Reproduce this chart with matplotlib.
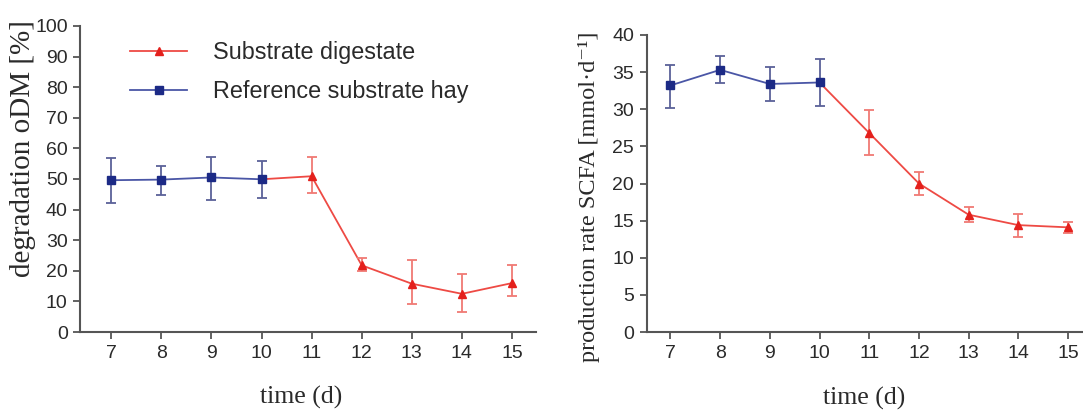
import numpy as np
import matplotlib
matplotlib.use("Agg")
import matplotlib.pyplot as plt

# --- data -------------------------------------------------------------
hay_days = [7, 8, 9, 10]
dig_days = [11, 12, 13, 14, 15]

# degradation oDM [%]
hay_odm = [49.6, 49.8, 50.5, 49.9]
hay_odm_lo = [42.2, 44.9, 43.3, 43.9]
hay_odm_hi = [56.7, 54.3, 57.3, 55.9]
dig_odm = [50.9, 21.8, 15.8, 12.5, 16.0]
dig_odm_lo = [45.5, 20.0, 9.1, 6.4, 11.7]
dig_odm_hi = [57.3, 24.3, 23.4, 19.1, 22.0]

# production rate SCFA [mmol/d]
hay_scfa = [33.2, 35.3, 33.4, 33.6]
hay_scfa_lo = [30.2, 33.5, 31.1, 30.5]
hay_scfa_hi = [36.0, 37.2, 35.7, 36.8]
dig_scfa = [26.8, 20.0, 15.8, 14.4, 14.1]
dig_scfa_lo = [23.9, 18.4, 14.8, 12.8, 13.3]
dig_scfa_hi = [29.9, 21.6, 16.8, 15.9, 14.8]

day_ticks = [7, 8, 9, 10, 11, 12, 13, 14, 15]
odm_ticks = [0, 10, 20, 30, 40, 50, 60, 70, 80, 90, 100]
scfa_ticks = [0, 5, 10, 15, 20, 25, 30, 35, 40]

label_dig = "Substrate digestate"
label_hay = "Reference substrate hay"

# --- style ------------------------------------------------------------
RED_LINE = "#ee4a44"
RED_MARK = "#e4201c"
RED_ERR = "#f07a74"
BLUE_LINE = "#4a56a6"
BLUE_MARK = "#1c2a86"
BLUE_ERR = "#5b6198"
AXIS = "#555555"
TEXT = "#2a2a2a"

plt.rcParams["font.family"] = ["Liberation Sans", "DejaVu Sans"]
SERIF = ["Liberation Serif", "DejaVu Serif"]

fig = plt.figure(figsize=(10.83, 4.11), dpi=100)
fig.patch.set_facecolor("white")


def draw_panel(ax, hay, hay_lo, hay_hi, dig, dig_lo, dig_hi):
    hay = np.asarray(hay)
    dig = np.asarray(dig)
    # connecting segment from the last hay point into the digestate series
    ax.plot(np.r_[hay_days[-1], dig_days], np.r_[hay[-1], dig],
            color=RED_LINE, lw=1.3, zorder=2)
    ax.errorbar(dig_days, dig,
                yerr=[dig - np.asarray(dig_lo), np.asarray(dig_hi) - dig],
                fmt="none", ecolor=RED_ERR, elinewidth=1.3, capsize=3.8,
                capthick=1.3, zorder=2)
    ax.plot(dig_days, dig, ls="none", marker="^", ms=6.2, color=RED_MARK,
            zorder=3)

    ax.plot(hay_days, hay, color=BLUE_LINE, lw=1.3, zorder=4)
    ax.errorbar(hay_days, hay,
                yerr=[hay - np.asarray(hay_lo), np.asarray(hay_hi) - hay],
                fmt="none", ecolor=BLUE_ERR, elinewidth=1.3, capsize=3.8,
                capthick=1.3, zorder=4)
    ax.plot(hay_days, hay, ls="none", marker="s", ms=5.6, color=BLUE_MARK,
            zorder=5)

    for side in ("top", "right"):
        ax.spines[side].set_visible(False)
    for side in ("left", "bottom"):
        ax.spines[side].set_color(AXIS)
        ax.spines[side].set_linewidth(1.5)
    ax.tick_params(axis="both", direction="out", length=5, width=1.3,
                   color=AXIS, labelcolor=TEXT, labelsize=14, pad=4)
    ax.set_xticks(day_ticks)


# left panel: degradation
ax1 = fig.add_axes([0.074, 0.192, 0.421, 0.745])
draw_panel(ax1, hay_odm, hay_odm_lo, hay_odm_hi,
           dig_odm, dig_odm_lo, dig_odm_hi)
ax1.set_xlim(6.38, 15.48)
ax1.set_ylim(0, 100)
ax1.set_yticks(odm_ticks)
ax1.set_ylabel("degradation oDM [%]", family=SERIF, fontsize=21,
               color=TEXT, va="center")
ax1.yaxis.set_label_coords(-0.125, 0.60)
ax1.set_xlabel("time (d)", family=SERIF, fontsize=18.5, color=TEXT,
               va="center")
ax1.xaxis.set_label_coords(0.485, -0.213)

# right panel: SCFA production rate
ax2 = fig.add_axes([0.597, 0.192, 0.403, 0.723])
draw_panel(ax2, hay_scfa, hay_scfa_lo, hay_scfa_hi,
           dig_scfa, dig_scfa_lo, dig_scfa_hi)
ax2.set_xlim(6.52, 15.3)
ax2.set_ylim(0, 40)
ax2.set_yticks(scfa_ticks)
ax2.set_ylabel("production rate SCFA [mmol·d⁻¹]", family=SERIF,
               fontsize=17.5, color=TEXT, va="center")
ax2.yaxis.set_label_coords(-0.133, 0.455)
ax2.set_xlabel("time (d)", family=SERIF, fontsize=18.5, color=TEXT,
               va="center")
ax2.xaxis.set_label_coords(0.498, -0.225)

# legend
h_dig = plt.Line2D([], [], color=RED_LINE, lw=1.3, marker="^", ms=6.2,
                   mfc=RED_MARK, mec=RED_MARK)
h_hay = plt.Line2D([], [], color=BLUE_LINE, lw=1.3, marker="s", ms=5.6,
                   mfc=BLUE_MARK, mec=BLUE_MARK)
leg = fig.legend([h_dig, h_hay], [label_dig, label_hay],
                 loc="upper left", bbox_to_anchor=(130 / 1083, 1 - 41 / 411),
                 frameon=False, fontsize=16.8, handlelength=2.45,
                 handletextpad=1.1, labelspacing=0.7, borderpad=0,
                 borderaxespad=0)
for t in leg.get_texts():
    t.set_color(TEXT)

fig.savefig("out.png", dpi=100, facecolor="white")
